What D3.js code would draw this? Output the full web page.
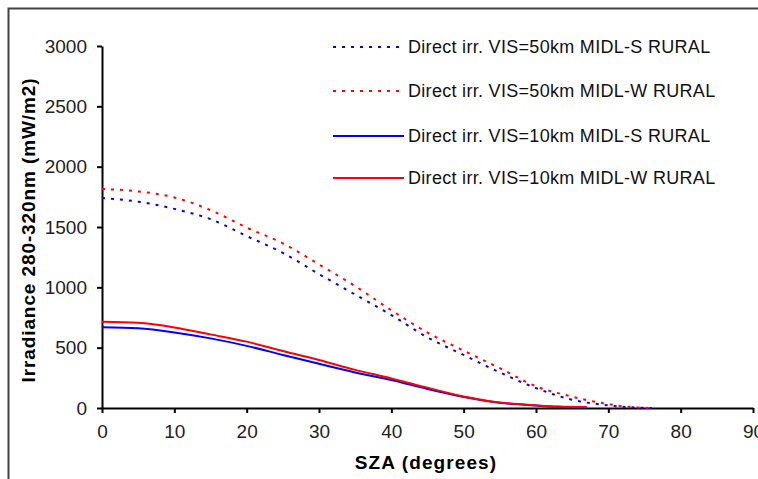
<!DOCTYPE html>
<html><head><meta charset="utf-8">
<script src="https://cdn.jsdelivr.net/npm/d3@7"></script>
<style>body{margin:0;background:#fff}svg{display:block}text{font-family:"Liberation Sans",Arial,sans-serif}</style>
</head><body><svg id="c" width="758" height="479"></svg>
<script>
const xTicks = [0,10,20,30,40,50,60,70,80,90];
const yTicks = [0,500,1000,1500,2000,2500,3000];
const seriesNames = [
  "Direct irr. VIS=50km MIDL-S RURAL",
  "Direct irr. VIS=50km MIDL-W RURAL",
  "Direct irr. VIS=10km MIDL-S RURAL",
  "Direct irr. VIS=10km MIDL-W RURAL"
];
const sza50 = [0,5,10,15,20,25,30,35,40,45,50,55,60,65,70,72,74,76];
const vis50S = [1740,1710,1650,1565,1425,1285,1110,940,770,585,440,295,165,68,22,10,4,0];
const vis50W = [1815,1795,1745,1640,1495,1365,1190,1010,810,625,475,330,180,94,32,14,5,0];
const sza10 = [0,5,10,15,20,25,30,35,40,45,50,55,60,63,67];
const vis10S = [669,660,626,577,515,440,366,295,232,157,92,44,20,10,6];
const vis10W = [715,706,668,610,550,472,398,316,245,168,96,46,22,12,8];

const colors = ["#0000ff","#ff0000","#0000ff","#ff0000"];
const dashed = [true,true,false,false];
const data = [
  sza50.map((s,i)=>[s,vis50S[i]]),
  sza50.map((s,i)=>[s,vis50W[i]]),
  sza10.map((s,i)=>[s,vis10S[i]]),
  sza10.map((s,i)=>[s,vis10W[i]])
];

const svg = d3.select("#c");
svg.append("rect").attr("x",8.5).attr("y",8.5).attr("width",800).attr("height",500)
  .attr("fill","none").attr("stroke","#444").attr("stroke-width",2);

const x = d3.scaleLinear().domain([0,90]).range([102,753]);
const y = d3.scaleLinear().domain([0,3000]).range([408,46]);

const xa = svg.append("g").attr("transform","translate(0,408)")
  .call(d3.axisBottom(x).tickValues(xTicks).tickFormat(d3.format("d")).tickSize(5).tickSizeOuter(0).tickPadding(12));
const ya = svg.append("g").attr("transform","translate(102,0)")
  .call(d3.axisLeft(y).tickValues(yTicks).tickFormat(d3.format("d")).tickSize(5).tickSizeOuter(0).tickPadding(10));
[xa,ya].forEach(a=>{
  a.select(".domain").attr("stroke","#000").attr("stroke-width",2);
  a.selectAll(".tick line").attr("stroke","#000").attr("stroke-width",2);
  a.selectAll(".tick text").attr("font-size",19).attr("fill","#222")
   .attr("font-family","Liberation Sans, Arial, sans-serif");
});

const line = d3.line().x(d=>x(d[0])).y(d=>y(d[1])).curve(d3.curveMonotoneX);
data.forEach((d,i)=>{
  svg.append("path").datum(d).attr("d",line).attr("fill","none")
    .attr("stroke",colors[i]).attr("stroke-width",2)
    .attr("stroke-dasharray",dashed[i]?"3,6":null);
});

svg.append("text").attr("x",426).attr("y",469).attr("text-anchor","middle")
  .attr("font-size",19).attr("font-weight","bold").attr("letter-spacing",1.1).text("SZA (degrees)");
svg.append("text").attr("transform","translate(35,230) rotate(-90)").attr("text-anchor","middle")
  .attr("font-size",19).attr("font-weight","bold").attr("letter-spacing",0.9).text("Irradiance 280-320nm (mW/m2)");

const legY = [47,91,136,178];
seriesNames.forEach((n,i)=>{
  svg.append("line").attr("x1",333).attr("x2",404).attr("y1",legY[i]).attr("y2",legY[i])
    .attr("stroke",colors[i]).attr("stroke-width",2).attr("stroke-dasharray",dashed[i]?"3,6":null);
  svg.append("text").attr("x",408).attr("y",legY[i]).attr("dy","0.36em")
    .attr("font-size",18).attr("letter-spacing",0.3).attr("fill","#111").text(n);
});
</script></body></html>
